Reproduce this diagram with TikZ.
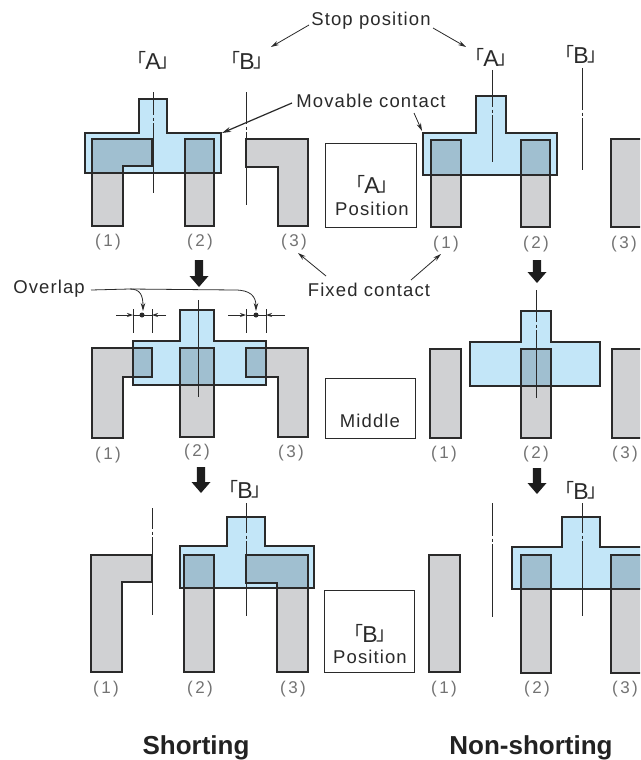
\documentclass[tikz,border=0pt]{standalone}
\usepackage{fontspec}
\usetikzlibrary{arrows.meta}
\setmainfont{Liberation Sans}
\newfontfamily\cjkf{Noto Sans CJK JP}
\newfontfamily\spcf[LetterSpace=6]{Liberation Sans}
\newfontfamily\numf[LetterSpace=14]{Liberation Sans}
\definecolor{movec}{HTML}{C3E6F8}
\definecolor{fixc}{HTML}{D0D1D3}
\definecolor{overc}{HTML}{A0BFD0}
\definecolor{inkc}{HTML}{2A2A2A}
\newcommand{\cbr}[1]{{\fontsize{19}{19}\cjkf\raisebox{2pt}{「}}\kern-1pt{\fontsize{23}{23}\selectfont #1}\kern-1pt{\fontsize{19}{19}\cjkf\raisebox{2pt}{」}}}
\newcommand{\cpanel}[2]{%
  \fill[fixc] #2;
  \fill[movec] #1;
  \begin{scope}\clip #1; \fill[overc] #2;\end{scope}
  \draw[outl] #2;
  \draw[outl] #1;}
\newcommand{\ctrline}[4]{%
  \draw[cl] (#1,#2) -- (#1,#4-4);
  \draw[cl] (#1,#4-1.5) -- (#1,#4+1.5);
  \draw[cl] (#1,#4+4) -- (#1,#3);}
\newcommand{\blockarrow}[3]{%
  \fill[inkc!70!black] (#1-4.2,#2) -- (#1+4.2,#2) -- (#1+4.2,#3-11) -- (#1+9.5,#3-11) -- (#1,#3) -- (#1-9.5,#3-11) -- (#1-4.2,#3-11) -- cycle;}
\tikzset{
  outl/.style={draw=inkc,line width=1.4pt,line join=miter},
  cl/.style={draw=inkc,line width=0.9pt},
  lead/.style={draw=inkc,line width=0.8pt,-{Stealth[length=8pt,width=4.5pt]}},
  leadb/.style={draw=inkc,line width=1.2pt,-{Stealth[length=9pt,width=5pt]}},
  dimline/.style={draw=inkc,line width=0.8pt},
  dimtip/.style={-{Stealth[length=6pt,width=4pt]}},
  txt/.style={inner sep=0pt,text=inkc,font=\fontsize{18.5}{20}\spcf},
  lab/.style={inner sep=0pt,text=inkc},
  num/.style={inner sep=0pt,text=black!55,font=\fontsize{17}{18}\numf},
  head/.style={inner sep=0pt,text=inkc!80!black,font=\fontsize{26}{28}\selectfont\bfseries},
  posbox/.style={draw=inkc,line width=0.9pt,fill=white}
}
\begin{document}
\begin{tikzpicture}[x=1pt,y=-1pt]
\useasboundingbox (0,0) rectangle (640,760);
\clip (0,0) rectangle (640,760);
\fill[white] (0,0) rectangle (640,760);

% position boxes
\draw[posbox] (325,143) rectangle (416,227);
\draw[posbox] (325,378) rectangle (415,438);
\draw[posbox] (324,590) rectangle (414,672);
\node[lab] (bxA) at (372,184) {\cbr{A}};
\node[txt] (bxAp) at (372,209) {Position};
\node[txt] (bxM) at (370,421) {Middle};
\node[lab] (bxB) at (370,633) {\cbr{B}};
\node[txt] (bxBp) at (370,657) {Position};

% top left
\cpanel{(85,133)--(139,133)--(139,99)--(167,99)--(167,133)--(221,133)--(221,173)--(85,173)--cycle}
 {(92,139)--(152,139)--(152,166)--(123,166)--(123,226)--(92,226)--cycle
  (185,139)--(214,139)--(214,226)--(185,226)--cycle
  (246,139)--(308,139)--(308,226)--(278,226)--(278,167)--(246,167)--cycle}
\ctrline{153}{92}{193}{119}
\ctrline{246}{92}{205}{128}
% top right
\cpanel{(423,133)--(476,133)--(476,96)--(506,96)--(506,133)--(557,133)--(557,175)--(423,175)--cycle}
 {(431,140)--(461,140)--(461,227)--(431,227)--cycle
  (521,140)--(550,140)--(550,227)--(521,227)--cycle
  (611,139)--(646,139)--(646,227)--(611,227)--cycle}
\ctrline{492}{70}{162}{111}
\ctrline{582}{68}{170}{114}
% middle left
\cpanel{(133,341)--(180,341)--(180,310)--(214,310)--(214,341)--(266,341)--(266,385)--(133,385)--cycle}
 {(92,348)--(152,348)--(152,377)--(123,377)--(123,438)--(92,438)--cycle
  (180,348)--(214,348)--(214,437)--(180,437)--cycle
  (246,348)--(308,348)--(308,437)--(278,437)--(278,377)--(246,377)--cycle}
\draw[cl] (198,300) -- (198,397);
% middle right
\cpanel{(470,342)--(521,342)--(521,311)--(551,311)--(551,342)--(600,342)--(600,386)--(470,386)--cycle}
 {(430,349)--(461,349)--(461,438)--(430,438)--cycle
  (521,349)--(551,349)--(551,438)--(521,438)--cycle
  (612,349)--(646,349)--(646,438)--(612,438)--cycle}
\ctrline{536}{290}{398}{326}
% bottom left
\cpanel{(180,546)--(227,546)--(227,517)--(265,517)--(265,546)--(314,546)--(314,588)--(180,588)--cycle}
 {(91,555)--(152,555)--(152,582)--(122,582)--(122,672)--(91,672)--cycle
  (184,555)--(214,555)--(214,672)--(184,672)--cycle
  (246,555)--(308,555)--(308,672)--(277,672)--(277,583)--(246,583)--cycle}
\ctrline{152}{508}{615}{533}
\ctrline{246}{503}{616}{537}
% bottom right
\cpanel{(512,547)--(562,547)--(562,517)--(600,517)--(600,547)--(646,547)--(646,589)--(512,589)--cycle}
 {(429,555)--(460,555)--(460,672)--(429,672)--cycle
  (521,555)--(551,555)--(551,673)--(521,673)--cycle
  (611,555)--(646,555)--(646,673)--(611,673)--cycle}
\ctrline{492}{503}{617}{540}
\ctrline{582}{503}{616}{537}

% stop labels
\node[lab] (tlA) at (153,60) {\cbr{A}};
\node[lab] (tlB) at (247,60) {\cbr{B}};
\node[lab] (trA) at (491,57) {\cbr{A}};
\node[lab] (trB) at (581,54) {\cbr{B}};
\node[lab] (mlB) at (245,489) {\cbr{B}};
\node[lab] (mrB) at (581,490) {\cbr{B}};

% numbers
\node[num] (n11) at (108,242) {(1)};
\node[num] (n12) at (200,242) {(2)};
\node[num] (n13) at (294,242) {(3)};
\node[num] (n14) at (446,244) {(1)};
\node[num] (n15) at (536,244) {(2)};
\node[num] (n16) at (624,244) {(3)};
\node[num] (n21) at (108,455) {(1)};
\node[num] (n22) at (197,452) {(2)};
\node[num] (n23) at (291,453) {(3)};
\node[num] (n24) at (444,454) {(1)};
\node[num] (n25) at (536,454) {(2)};
\node[num] (n26) at (625,454) {(3)};
\node[num] (n31) at (106,689) {(1)};
\node[num] (n32) at (200,689) {(2)};
\node[num] (n33) at (293,689) {(3)};
\node[num] (n34) at (444,689) {(1)};
\node[num] (n35) at (537,689) {(2)};
\node[num] (n36) at (625,689) {(3)};

% block arrows
\blockarrow{199}{260}{287}
\blockarrow{201}{467}{493}
\blockarrow{537}{260}{283}
\blockarrow{537}{468}{494}

% callouts
\node[txt] (stop) at (371,21) {Stop position};
\node[txt] (mov) at (371,101) {Movable contact};
\node[txt] (fix) at (369,290) {Fixed contact};
\node[txt] (ovl) at (49,289) {Overlap};
\coordinate (st1) at (309,25); \coordinate (st1e) at (271,47);
\coordinate (st2) at (433,28); \coordinate (st2e) at (466,47);
\draw[lead] (st1) -- (st1e);
\draw[lead] (st2) -- (st2e);
\coordinate (mv1) at (292,103); \coordinate (mv1e) at (222,133);
\coordinate (mv2) at (414,113); \coordinate (mv2e) at (422,131);
\draw[leadb] (mv1) -- (mv1e);
\draw[lead] (mv2) -- (mv2e);
\coordinate (fx1) at (326,276); \coordinate (fx1e) at (298,253);
\coordinate (fx2) at (411,280); \coordinate (fx2e) at (441,254);
\draw[lead] (fx1) -- (fx1e);
\draw[lead] (fx2) -- (fx2e);

% overlap leaders
\coordinate (ov0) at (91,290); \coordinate (ov1) at (130,289);
\coordinate (ov1e) at (143,311); \coordinate (ov2e) at (256,311);
\draw[lead] (ov0) -- (ov1) .. controls (140,289) and (143,295) .. (ov1e);
\draw[lead] (ov1) -- (235,290) .. controls (250,290) and (256,296) .. (ov2e);

% overlap dimensions
\coordinate (d1) at (133,315); \coordinate (d2) at (152,315);
\coordinate (d3) at (246,315); \coordinate (d4) at (266,315);
\draw[dimline] (133,309) -- (133,333);
\draw[dimline] (152,309) -- (152,333);
\draw[dimline] (246,309) -- (246,333);
\draw[dimline] (266,309) -- (266,333);
\draw[dimline] (d1) -- (d2);
\draw[dimline] (d3) -- (d4);
\draw[dimline,dimtip] (116,315) -- (d1);
\draw[dimline,dimtip] (166,315) -- (d2);
\draw[dimline,dimtip] (228,315) -- (d3);
\draw[dimline,dimtip] (285,315) -- (d4);
\fill[inkc] (142,315) circle[radius=2.5pt];
\fill[inkc] (256,315) circle[radius=2.5pt];

% captions
\node[head] (cs) at (196,748) {Shorting};
\node[head] (cn) at (531,748) {Non-shorting};
\end{tikzpicture}
\end{document}
